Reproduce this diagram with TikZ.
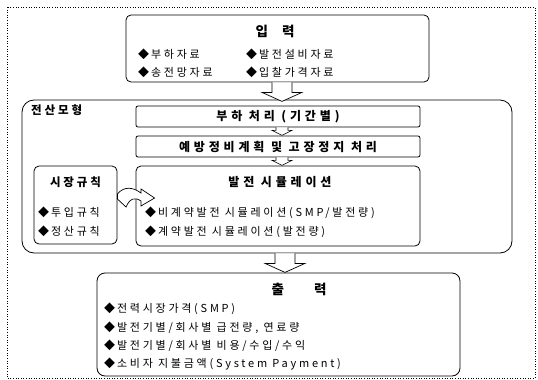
\documentclass[tikz,border=0pt]{standalone}
\usepackage{fontspec}
\setmainfont{Noto Sans CJK KR}[LetterSpace=25]
\usetikzlibrary{calc}
\tikzset{
  box/.style={draw, line width=0.8pt, rounded corners=5pt, inner sep=0pt},
  bigbox/.style={draw, line width=0.8pt, rounded corners=12pt, inner sep=0pt},
  item/.style={anchor=west, inner sep=0pt, font=\fontsize{11}{13}\selectfont},
  ttl/.style={inner sep=0pt, font=\fontsize{12}{14}\selectfont\bfseries\addfontfeatures{LetterSpace=32}},
  bigttl/.style={inner sep=0pt, font=\fontsize{13.5}{15}\selectfont\bfseries},
  bigarr/.pic={\draw[fill=white, line width=0.7pt, line join=miter]
     (-10pt,0pt) -- (-10pt,-10pt) -- (-20pt,-10pt) -- (0pt,-19pt) -- (20pt,-10pt) -- (10pt,-10pt) -- (10pt,0pt);},
  smallarr/.pic={\draw[fill=white, line width=0.6pt]
     (-6pt,0pt) -- (-6pt,-3pt) -- (-10pt,-3pt) -- (0pt,-8pt) -- (10pt,-3pt) -- (6pt,-3pt) -- (6pt,0pt);}
}
\begin{document}
\begin{tikzpicture}[x=1pt, y=-1pt]
\useasboundingbox (0,0) rectangle (538,380);
\draw[dotted, line width=0.6pt] (7,7) rectangle (535,378);

% input
\node[box, minimum width=303pt, minimum height=67pt] (in) at (277.5,48.5) {};
\node[bigttl] (inT) at (275,31) {입\hspace{14pt}력};
\node[item] (in1) at (138,54) {◆\,부하자료};
\node[item] (in2) at (246,54) {◆\,발전설비자료};
\node[item] (in3) at (138,72) {◆\,송전망자료};
\node[item] (in4) at (246,72) {◆\,입찰가격자료};

% main model box
\node[bigbox, minimum width=490pt, minimum height=153pt] (main) at (267,176.5) {};
\node[ttl, anchor=west, font=\fontsize{11.5}{13}\selectfont\bfseries] (mainT) at (31,110) {전산모형};

\node[box, rounded corners=2pt, minimum width=284pt, minimum height=21pt] (load) at (278,116.5) {};
\node[ttl] (loadT) at (load.center) {부하 처리 (기간별)};
\node[box, rounded corners=2pt, minimum width=284pt, minimum height=21pt] (maint) at (278,146.5) {};
\node[ttl] (maintT) at (maint.center) {예방정비계획 및 고장정지 처리};
\node[box, minimum width=284pt, minimum height=80pt] (sim) at (278,206) {};
\node[ttl] (simT) at (280,182) {발전 시뮬레이션};
\node[item] (sim1) at (145,213) {◆\,비계약발전 시뮬레이션(SMP/발전량)};
\node[item] (sim2) at (145,232) {◆\,계약발전 시뮬레이션(발전량)};

\node[box, minimum width=83pt, minimum height=78pt] (rule) at (75.5,205) {};
\node[ttl, font=\fontsize{11.5}{13}\selectfont\bfseries] (ruleT) at (75.5,182) {시장규칙};
\node[item] (rule1) at (38,212) {◆\,투입규칙};
\node[item] (rule2) at (38,231) {◆\,정산규칙};

% output
\node[box, rounded corners=8pt, minimum width=363pt, minimum height=103pt] (out) at (278.5,324.5) {};
\node[bigttl] (outT) at (299,289) {출\hspace{30pt}력};
\node[item] (out1) at (104,309) {◆\,전력시장가격(SMP)};
\node[item] (out2) at (104,328) {◆\,발전기별/회사별 급전량, 연료량};
\node[item] (out3) at (104,346) {◆\,발전기별/회사별 비용/수입/수익};
\node[item] (out4) at (104,364) {◆\,소비자 지불금액(System Payment)};

% block arrows
\pic at ($(in.south)+(4.5,0)$) {bigarr};
\pic at ($(load.south)+(4,0)$) {smallarr};
\pic at ($(maint.south)+(4,0)$) {smallarr};
\pic at ($(main.south)+(18,0)$) {bigarr};

% curved arrow from rules to simulation
\draw[fill=white, line width=0.7pt, line join=miter]
  ($(rule.east)+(0,-11)$) .. controls (124,186) and (133,187) .. (141,193)
  -- (141,189) -- ($(sim.west)+(19,-8)$) -- (141,206) -- (141,201)
  .. controls (135,197) and (130,198) .. (126,207) -- ($(rule.east)+(0,-6)$) -- cycle;
\end{tikzpicture}
\end{document}
